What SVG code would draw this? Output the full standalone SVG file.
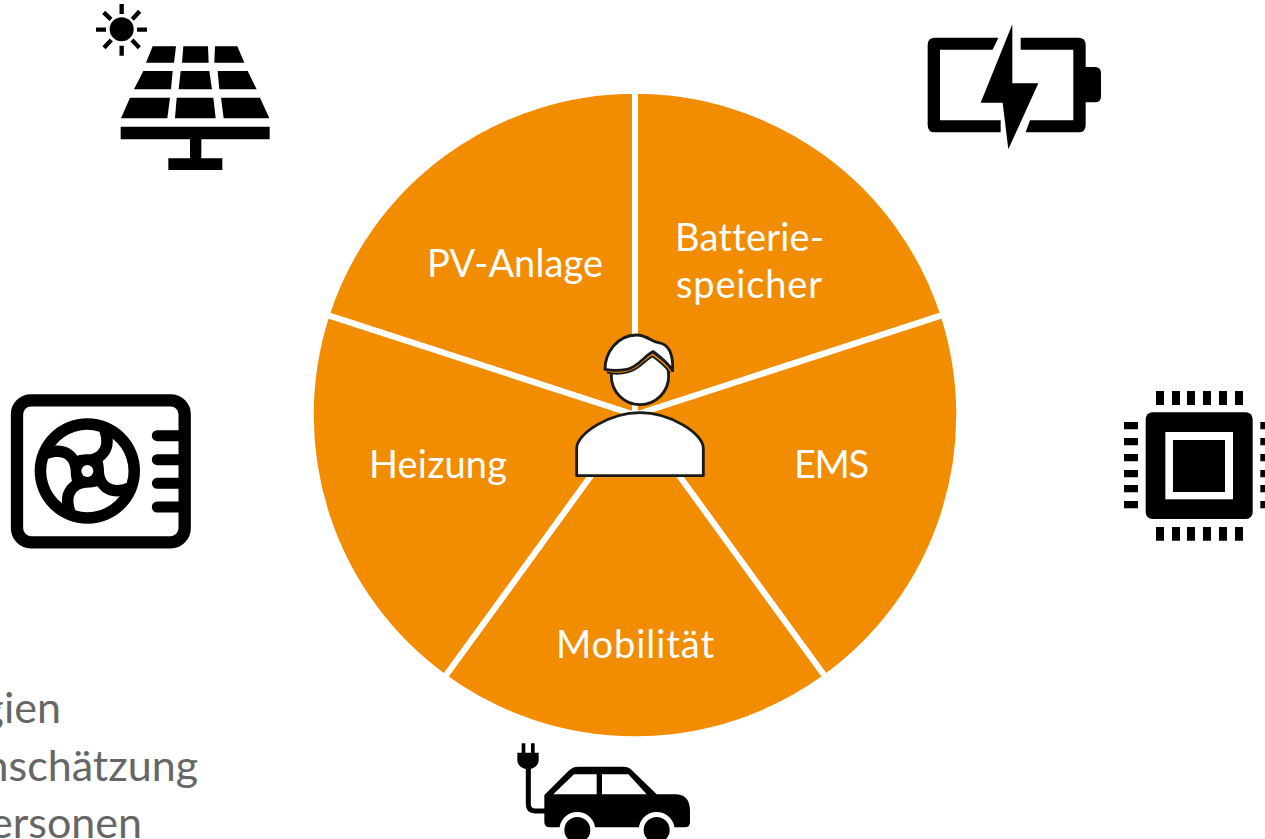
<svg xmlns="http://www.w3.org/2000/svg" width="1265" height="839" viewBox="0 0 1265 839">
<style>
text{font-family:"Lato","Open Sans","Liberation Sans",sans-serif;font-variant-ligatures:none}
.sector{fill:#F28C00;stroke:#fff;stroke-width:6;stroke-linejoin:miter}
.label{fill:#fff;font-size:38px}
.gray{fill:#666;font-size:43px;text-anchor:end}
.person{fill:#fff;stroke:#1a1a1a;stroke-width:8.5;stroke-linejoin:round}
</style>
<defs><path id="blade" d="M165 182A123 123 0 0 1 298 140C312 178 300 205 265 208C250 208 240 210 232 212C215 190 195 180 165 182Z"/></defs>
<rect width="1265" height="839" fill="#fff"/>
<g id="connectors"/>
<g id="sector-pv"><path class="sector" d="M635 415L326.6 314.8A324.25 324.25 0 0 1 635 90.75Z"/><text class="label" x="427" y="277" textLength="176">PV-Anlage</text></g>
<g id="sector-batterie"><path class="sector" d="M635 415L635 90.75A324.25 324.25 0 0 1 943.4 314.8Z"/><text class="label" x="675" y="251" textLength="149">Batterie-</text><text class="label" x="676" y="298" textLength="146">speicher</text></g>
<g id="sector-ems"><path class="sector" d="M635 415L943.4 314.8A324.25 324.25 0 0 1 825.6 677.3Z"/><text class="label" x="794" y="478" textLength="75">EMS</text></g>
<g id="sector-mobilitaet"><path class="sector" d="M635 415L825.6 677.3A324.25 324.25 0 0 1 444.4 677.3Z"/><text class="label" x="556" y="658" textLength="158">Mobilität</text></g>
<g id="sector-heizung"><path class="sector" d="M635 415L444.4 677.3A324.25 324.25 0 0 1 326.6 314.8Z"/><text class="label" x="369" y="478" textLength="138">Heizung</text></g>
<g id="person" transform="translate(560 320) scale(.33333)">
<circle class="person" cx="240" cy="168" r="86"/>
<path fill="none" stroke="#1a1a1a" stroke-width="16" stroke-linejoin="round" d="M142 152C170 160 205 155 225 142C245 130 262 108 278 103C295 115 320 135 334 155"/>
<path fill="none" stroke="#F28C00" stroke-width="5" d="M142 152C170 160 205 155 225 142C245 130 262 108 278 103C295 115 320 135 334 155"/>
<path class="person" d="M135 148C135 100 170 45 230 45C260 45 275 65 295 68C325 72 340 100 338 152C325 130 300 110 280 95C260 100 235 142 200 148C180 152 155 152 135 148Z"/>
<path class="person" d="M50 467L50 385C50 340 150 278 240 278C330 278 430 340 430 385L430 467Z"/>
</g>
<g id="icon-solar" transform="translate(80 0) scale(.33333)">
<circle cx="125" cy="88" r="36"/>
<g stroke="#000" stroke-width="13"><path d="M125 12V42M125 137V167M48 89H78M171 89H201M71 37L93 58M179 34L157 58M72 143L94 120M178 143L156 120"/></g>
<path d="M218 139H288L282 188H198ZM310 139H384L386 188H306ZM405 139H472L493 188H403ZM190 213H278L273 268H162ZM302 213H388L396 268H296ZM413 213H503L530 268H418ZM150 293H270L262 355H123ZM290 293H400L407 355H285ZM423 293H540L568 355H431ZM122 380H569V418H364V475H427V510H265V475H330V418H122Z"/>
</g>
<g id="icon-battery" transform="translate(910 15) scale(.33333)">
<path d="M265 68H75Q53 68 53 90V330Q53 352 75 352H272V316H90V104H248ZM332 68H505Q527 68 527 90V330Q527 352 505 352H347L360 316H490V104H332ZM527 156H555Q573 156 573 175V243Q573 262 555 262H527ZM307 28L212 263H278L295 403L385 205H307Z"/>
</g>
<g id="icon-heatpump" transform="translate(0 385) scale(.33333)">
<rect x="51" y="46" width="503" height="426" rx="42" fill="none" stroke="#000" stroke-width="37"/>
<path stroke="#000" stroke-width="33" stroke-linecap="round" d="M472 152H540M472 224H540M472 295H540M472 366H540"/>
<circle cx="262" cy="258" r="158"/>
<g fill="#fff">
<use href="#blade"/>
<use href="#blade" transform="rotate(90 262 258)"/>
<use href="#blade" transform="rotate(180 262 258)"/>
<use href="#blade" transform="rotate(270 262 258)"/>
<circle cx="262" cy="258" r="18"/>
</g>
</g>
<g id="icon-chip" transform="translate(1115 380) scale(.33333)">
<rect x="92" y="97" width="321" height="320" rx="20"/>
<rect x="151" y="156" width="203" height="202" fill="#fff"/>
<rect x="174" y="180" width="156" height="156"/>
<path d="M123 33h24v42h-24zM171 33h24v42h-24zM216 33h24v42h-24zM264 33h24v42h-24zM312 33h24v42h-24zM360 33h24v42h-24zM123 441h24v41h-24zM171 441h24v41h-24zM216 441h24v41h-24zM264 441h24v41h-24zM312 441h24v41h-24zM360 441h24v41h-24zM27 126h42v22h-42zM27 174h42v22h-42zM27 222h42v22h-42zM27 270h42v22h-42zM27 315h42v22h-42zM27 363h42v22h-42zM436 126h16v22h-16zM436 174h16v22h-16zM436 222h16v22h-16zM436 270h16v22h-16zM436 315h16v22h-16zM436 363h16v22h-16z"/>
</g>
<g id="icon-car" transform="translate(500 735) scale(.33333)">
<path d="M65 25h11v28h-11zM93 25h11v28h-11zM52 53H116V75Q116 95 92 102H76Q52 95 52 75Z"/>
<path fill="none" stroke="#000" stroke-width="15" d="M85 100V208Q85 228 105 228H140"/>
<path fill-rule="evenodd" d="M133 180L205 108Q218 95 235 95H370Q385 95 395 105L470 178H530Q568 180 570 225V262Q570 277 555 277H150Q133 277 133 262ZM160 178H290V118H222ZM306 118V178H440L385 118Z"/>
<circle cx="232" cy="285" r="54" fill="#fff"/><circle cx="232" cy="285" r="39"/>
<circle cx="470" cy="285" r="54" fill="#fff"/><circle cx="470" cy="285" r="39"/>
</g>
<g id="clipped-text">
<text class="gray" x="61" y="723">gien</text>
<text class="gray" x="198" y="781">nschätzung</text>
<text class="gray" x="142" y="838">ersonen</text>
</g>
</svg>
